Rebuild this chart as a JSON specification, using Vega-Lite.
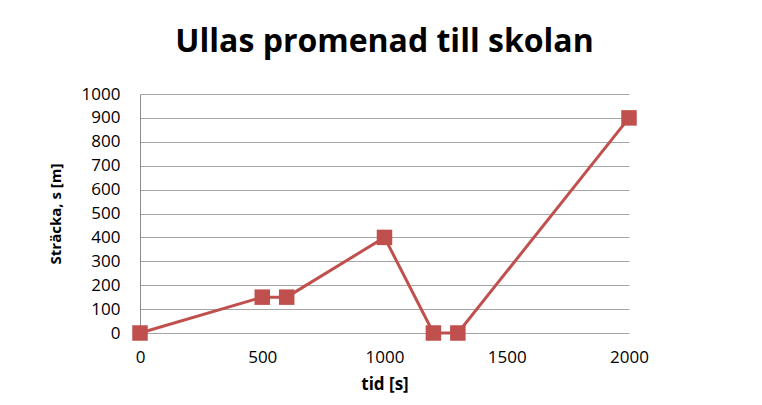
{
  "$schema": "https://vega.github.io/schema/vega-lite/v6.json",
  "autosize": {"type": "none"},
  "width": 489,
  "height": 239,
  "padding": {"left": 140, "top": 94, "right": 133, "bottom": 72},
  "background": "white",
  "title": {
    "text": "Ullas promenad till skolan",
    "font": "Open Sans",
    "fontSize": 32,
    "fontWeight": "bold",
    "color": "#000000",
    "anchor": "middle",
    "frame": "group",
    "baseline": "alphabetic",
    "offset": 1
  },
  "data": {
    "values": [
      {"tid": 0, "s": 0},
      {"tid": 500, "s": 150},
      {"tid": 600, "s": 150},
      {"tid": 1000, "s": 400},
      {"tid": 1200, "s": 0},
      {"tid": 1300, "s": 0},
      {"tid": 2000, "s": 900}
    ]
  },
  "mark": {
    "type": "line",
    "color": "#C0504D",
    "strokeWidth": 3,
    "point": {"shape": "square", "size": 240, "filled": true, "color": "#C0504D", "opacity": 1}
  },
  "encoding": {
    "x": {
      "field": "tid",
      "type": "quantitative",
      "scale": {"domain": [0, 2000], "nice": false},
      "axis": {
        "title": "tid [s]",
        "values": [0, 500, 1000, 1500, 2000],
        "format": "d",
        "labelFlush": false,
        "grid": false,
        "ticks": false,
        "tickSize": 0,
        "domain": false,
        "labelPadding": 16,
        "labelFont": "Open Sans",
        "labelFontSize": 17,
        "labelColor": "#000000",
        "titleFont": "Open Sans",
        "titleFontSize": 17,
        "titleFontWeight": "bold",
        "titleColor": "#000000",
        "titlePadding": 11
      }
    },
    "y": {
      "field": "s",
      "type": "quantitative",
      "scale": {"domain": [0, 1000], "nice": false},
      "axis": {
        "title": "Sträcka, s [m]",
        "values": [0, 100, 200, 300, 400, 500, 600, 700, 800, 900, 1000],
        "format": "d",
        "labelFlush": false,
        "grid": true,
        "gridColor": "#a6a6a6",
        "gridWidth": 1,
        "ticks": false,
        "tickSize": 0,
        "domain": true,
        "domainColor": "#8c8c8c",
        "domainWidth": 1,
        "labelPadding": 20,
        "labelFont": "Open Sans",
        "labelFontSize": 17,
        "labelColor": "#000000",
        "titleFont": "Open Sans",
        "titleFontSize": 15,
        "titleFontWeight": "bold",
        "titleColor": "#000000",
        "titlePadding": 18
      }
    }
  },
  "config": {
    "view": {"stroke": null}
  }
}
